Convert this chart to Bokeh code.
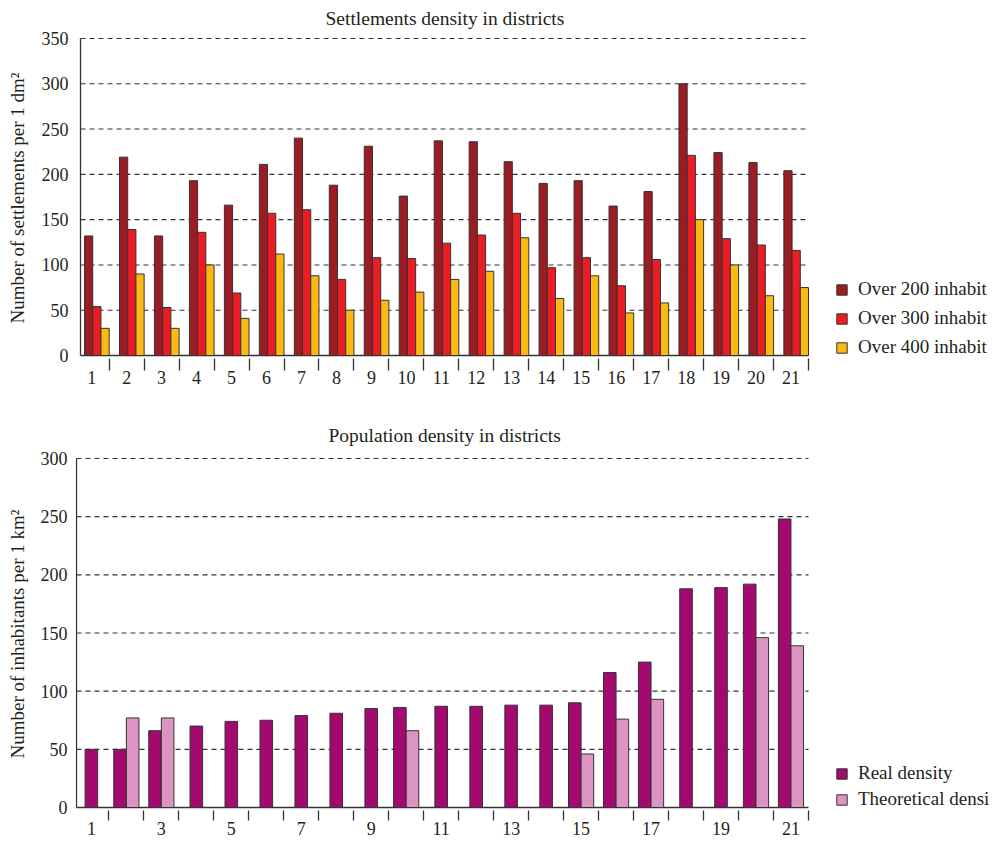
from bokeh.plotting import figure
from bokeh.layouts import column
from bokeh.models import FixedTicker, Legend, LegendItem, ColumnDataSource
from bokeh.embed import file_html
from bokeh.resources import INLINE

# ---------------- data ----------------
districts = list(range(1, 22))
district_labels = [str(d) for d in districts]

over200 = [132, 219, 132, 193, 166, 211, 240, 188, 231, 176, 237, 236,
           214, 190, 193, 165, 181, 300, 224, 213, 204]
over300 = [54, 139, 53, 136, 69, 157, 161, 84, 108, 107, 124, 133,
           157, 97, 108, 77, 106, 221, 129, 122, 116]
over400 = [30, 90, 30, 100, 41, 112, 88, 50, 61, 70, 84, 93,
           130, 63, 88, 47, 58, 150, 100, 66, 75]

real_density = [50, 50, 66, 70, 74, 75, 79, 81, 85, 86, 87, 87,
                88, 88, 90, 116, 125, 188, 189, 192, 248]
theoretical_density = [None, 77, 77, None, None, None, None, None, None, 66, None, None,
                       None, None, 46, 76, 93, None, None, 146, 139]

top_ticks = list(range(0, 351, 50))
bottom_ticks = list(range(0, 301, 50))
top_series = ["Over 200 inhabit", "Over 300 inhabit", "Over 400 inhabit"]
bottom_series = ["Real density", "Theoretical densi"]

# ---------------- style / geometry ----------------
FONT = "Liberation Serif"
TXT = "#231f20"
EDGE = "#333333"
GRID = "#333333"
C200, C300, C400 = "#9b1c22", "#ec1c24", "#fdb913"
CREAL, CTHEO = "#a3096f", "#de94c3"

W = 994
FRAME_LEFT = 75           # page px of frame left (both charts)
PX = 34.97                # px per district slot
AXIS_END = 21.5           # data x where the x axis ends
X_END = AXIS_END + (W - 808) / PX
TOP_H = 393


def style(p, yticks, ylabel, tick_standoff, label_standoff, title_offset, title_standoff, x_axis_start, ymax):
    p.outline_line_color = None
    p.xgrid.grid_line_color = None
    p.ygrid.grid_line_color = None
    p.yaxis.ticker = FixedTicker(ticks=yticks)
    for ax in (p.xaxis[0], p.yaxis[0]):
        ax.axis_line_color = None
        ax.major_tick_line_color = None
        ax.major_tick_out = 0
        ax.major_tick_in = 0
        ax.minor_tick_in = 0
        ax.major_label_text_font = FONT
        ax.major_label_text_font_size = "18px"
        ax.major_label_text_color = TXT
        ax.axis_label_text_font = FONT
        ax.axis_label_text_font_size = "19px"
        ax.axis_label_text_font_style = "normal"
        ax.axis_label_text_color = TXT
    p.yaxis.minor_tick_line_color = None
    p.yaxis.major_label_standoff = tick_standoff
    p.yaxis.axis_label = ylabel
    p.yaxis.axis_label_standoff = label_standoff
    p.xaxis.minor_tick_line_color = EDGE
    p.xaxis.minor_tick_line_width = 1.3
    p.title.text_font = FONT
    p.title.text_font_size = "19.5px"
    p.title.text_font_style = "normal"
    p.title.text_color = TXT
    p.title.align = "left"
    p.title.vertical_align = "top"
    p.title.offset = title_offset
    p.title.standoff = title_standoff
    # dashed grid lines from the y ticks (above 0)
    gy = [t for t in yticks if t > 0]
    p.segment(x0=[x_axis_start] * len(gy), y0=gy, x1=[AXIS_END] * len(gy), y1=gy,
              line_color=GRID, line_dash="5 4", line_width=1.1)
    # axis lines
    p.segment(x0=[x_axis_start], y0=[0], x1=[AXIS_END], y1=[0], line_color=EDGE, line_width=1.3)
    p.segment(x0=[x_axis_start], y0=[0], x1=[x_axis_start], y1=[ymax], line_color=EDGE, line_width=1.3)


def make_legend(items, loc, spacing):
    return Legend(items=items, location=loc, orientation="vertical",
                  glyph_width=13, glyph_height=13, label_height=13,
                  label_standoff=10, spacing=spacing, padding=0, margin=0,
                  border_line_color=None, background_fill_alpha=0,
                  label_text_font=FONT, label_text_font_size="19px",
                  label_text_color=TXT)


# ---------------- top chart ----------------
t_axis_x = 0.68                                   # data x of the y axis (page px 80)
t_x0 = t_axis_x - (80 - FRAME_LEFT) / PX
t_ppu = 317 / 350                                 # px per unit vertically (350 at y=38, 0 at y=355)
T_FRAME_TOP, T_FRAME_BOT = 37, 358
p1 = figure(width=W, height=TOP_H, x_range=(t_x0, X_END),
            y_range=(-(T_FRAME_BOT - 355) / t_ppu, 350 + (38 - T_FRAME_TOP) / t_ppu),
            output_backend="svg", toolbar_location=None,
            min_border_left=FRAME_LEFT, min_border_right=0,
            min_border_top=T_FRAME_TOP, min_border_bottom=TOP_H - T_FRAME_BOT,
            title="Settlements density in districts")
style(p1, top_ticks, "Number of settlements per 1 dm²", 7, 11, 325 - FRAME_LEFT, 13, t_axis_x, 350)
p1.xaxis.ticker = FixedTicker(ticks=districts, minor_ticks=[d + 0.5 for d in districts])
p1.xaxis.major_label_overrides = {d: l for d, l in zip(districts, district_labels)}
p1.xaxis.minor_tick_out = 12
p1.xaxis.major_label_standoff = 0

bw = 0.235
grp_right = 0.5
src1 = ColumnDataSource(dict(
    x200=[d + grp_right - 2.5 * bw for d in districts],
    x300=[d + grp_right - 1.5 * bw for d in districts],
    x400=[d + grp_right - 0.5 * bw for d in districts],
    v200=over200, v300=over300, v400=over400))
r200 = p1.vbar(x="x200", top="v200", width=bw, source=src1, fill_color=C200, line_color=EDGE, line_width=1)
r300 = p1.vbar(x="x300", top="v300", width=bw, source=src1, fill_color=C300, line_color=EDGE, line_width=1)
r400 = p1.vbar(x="x400", top="v400", width=bw, source=src1, fill_color=C400, line_color=EDGE, line_width=1)
lg1 = make_legend([LegendItem(label=top_series[0], renderers=[r200]),
                   LegendItem(label=top_series[1], renderers=[r300]),
                   LegendItem(label=top_series[2], renderers=[r400])], (835 - FRAME_LEFT, 0), 7)
p1.add_layout(lg1, "center")

# ---------------- bottom chart ----------------
BOT_H = 843 - TOP_H
b_axis_x = 0.574                                  # data x of the y axis (page px 76)
b_x0 = b_axis_x - (76 - FRAME_LEFT) / PX
b_ppu = 349 / 300                                 # 300 at y=458, 0 at y=807
B_FRAME_TOP, B_FRAME_BOT = 457, 810
p2 = figure(width=W, height=BOT_H, x_range=(b_x0, X_END),
            y_range=(-(B_FRAME_BOT - 807) / b_ppu, 300 + (458 - B_FRAME_TOP) / b_ppu),
            output_backend="svg", toolbar_location=None,
            min_border_left=FRAME_LEFT, min_border_right=0,
            min_border_top=B_FRAME_TOP - TOP_H, min_border_bottom=843 - B_FRAME_BOT,
            title="Population density in districts")
style(p2, bottom_ticks, "Number of inhabitants per 1 km²", 8, 10, 328 - FRAME_LEFT, 20, b_axis_x, 300)
odd = [d for d in districts if d % 2 == 1]
p2.xaxis.ticker = FixedTicker(ticks=odd, minor_ticks=[d + 0.5 for d in districts])
p2.xaxis.major_label_overrides = {d: district_labels[d - 1] for d in odd}
p2.xaxis.minor_tick_out = 10
p2.xaxis.major_label_standoff = 1

bw2 = 0.36
xr, vr, xt, vt = [], [], [], []
for d, r, t in zip(districts, real_density, theoretical_density):
    if t is None:
        xr.append(d)
    else:
        xr.append(d - bw2 / 2)
        xt.append(d + bw2 / 2)
        vt.append(t)
    vr.append(r)
rr = p2.vbar(x=xr, top=vr, width=bw2, fill_color=CREAL, line_color=EDGE, line_width=1)
rt = p2.vbar(x=xt, top=vt, width=bw2, fill_color=CTHEO, line_color=EDGE, line_width=1)
lg2 = make_legend([LegendItem(label=bottom_series[0], renderers=[rr]),
                   LegendItem(label=bottom_series[1], renderers=[rt])], (835 - FRAME_LEFT, 0), 4)
p2.add_layout(lg2, "center")

layout = column(p1, p2, spacing=0)
open("out.html", "w").write(file_html(layout, INLINE))
